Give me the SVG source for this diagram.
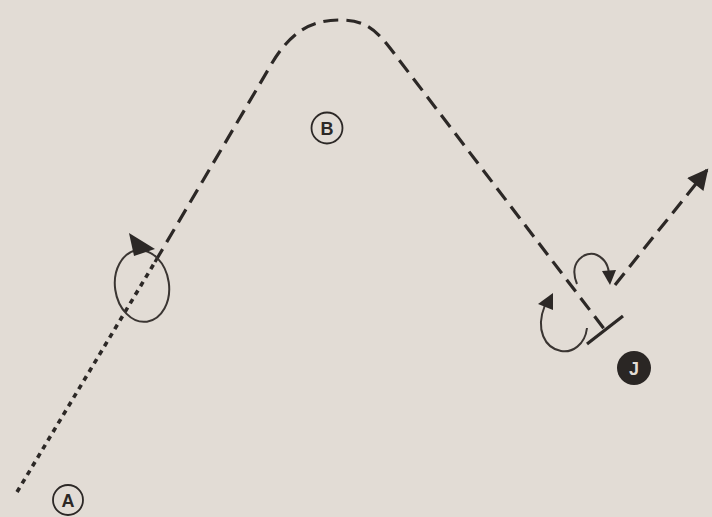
<svg xmlns="http://www.w3.org/2000/svg" width="712" height="517" viewBox="0 0 712 517">
<defs>
<style>
.ln{fill:none;stroke:#2c2826;stroke-width:3.2;stroke-linecap:butt}
.dash{stroke-dasharray:15 8}
.dot{stroke-dasharray:5 5;stroke-width:3.6}
.thin{fill:none;stroke:#3a3532;stroke-width:2}
.lbl{font-family:"Liberation Sans",Arial,sans-serif;font-size:18px;font-weight:bold;text-anchor:middle}
</style>
<marker id="ah" viewBox="0 0 10 10" refX="9" refY="5" markerWidth="7.5" markerHeight="6.5" orient="auto" markerUnits="strokeWidth">
<path d="M0,0 L10,5 L0,10 Z" fill="#2c2826"/>
</marker>
</defs>
<rect width="712" height="517" fill="#e2dcd5"/>
<g id="connectors">
<path class="ln dot" d="M17,492 L155,262"/>
<path class="ln dash" d="M155,262 L268,70 C290,30 312,20 340,20 C365,20 376,30 390,48 L605,330"/>
<path class="ln" d="M587,344 L623,316"/>
<path class="ln dash" d="M615,285 L707,170" marker-end="url(#ah)"/>
</g>
<g id="rotation-left">
<ellipse cx="142" cy="286" rx="27" ry="36" class="thin" transform="rotate(-8 142 286)"/>
<path d="M129,233 L155,249 L134,256 Z" fill="#2c2826"/>
</g>
<g id="rotation-right-upper">
<path class="thin" d="M577,284 C568,262 585,250 597,255 C605,259 609,266 609,276"/>
<path d="M602,271 L616,270 L610,285 Z" fill="#2c2826"/>
</g>
<g id="rotation-right-lower">
<path class="thin" d="M587,328 C585,345 572,353 561,351 C545,348 535,330 545,305"/>
<path d="M538,304 L553,293 L553,310 Z" fill="#2c2826"/>
</g>
<g id="label-A">
<circle cx="68" cy="500" r="15" fill="none" stroke="#2c2826" stroke-width="1.8"/>
<text x="68" y="506.5" class="lbl" fill="#2c2826">A</text>
</g>
<g id="label-B">
<circle cx="327" cy="128" r="15.5" fill="none" stroke="#2c2826" stroke-width="1.8"/>
<text x="327" y="134.5" class="lbl" fill="#2c2826">B</text>
</g>
<g id="label-J">
<circle cx="634" cy="368" r="17" fill="#2a2624"/>
<text x="634" y="374.5" class="lbl" fill="#e2dcd5">J</text>
</g>
</svg>
